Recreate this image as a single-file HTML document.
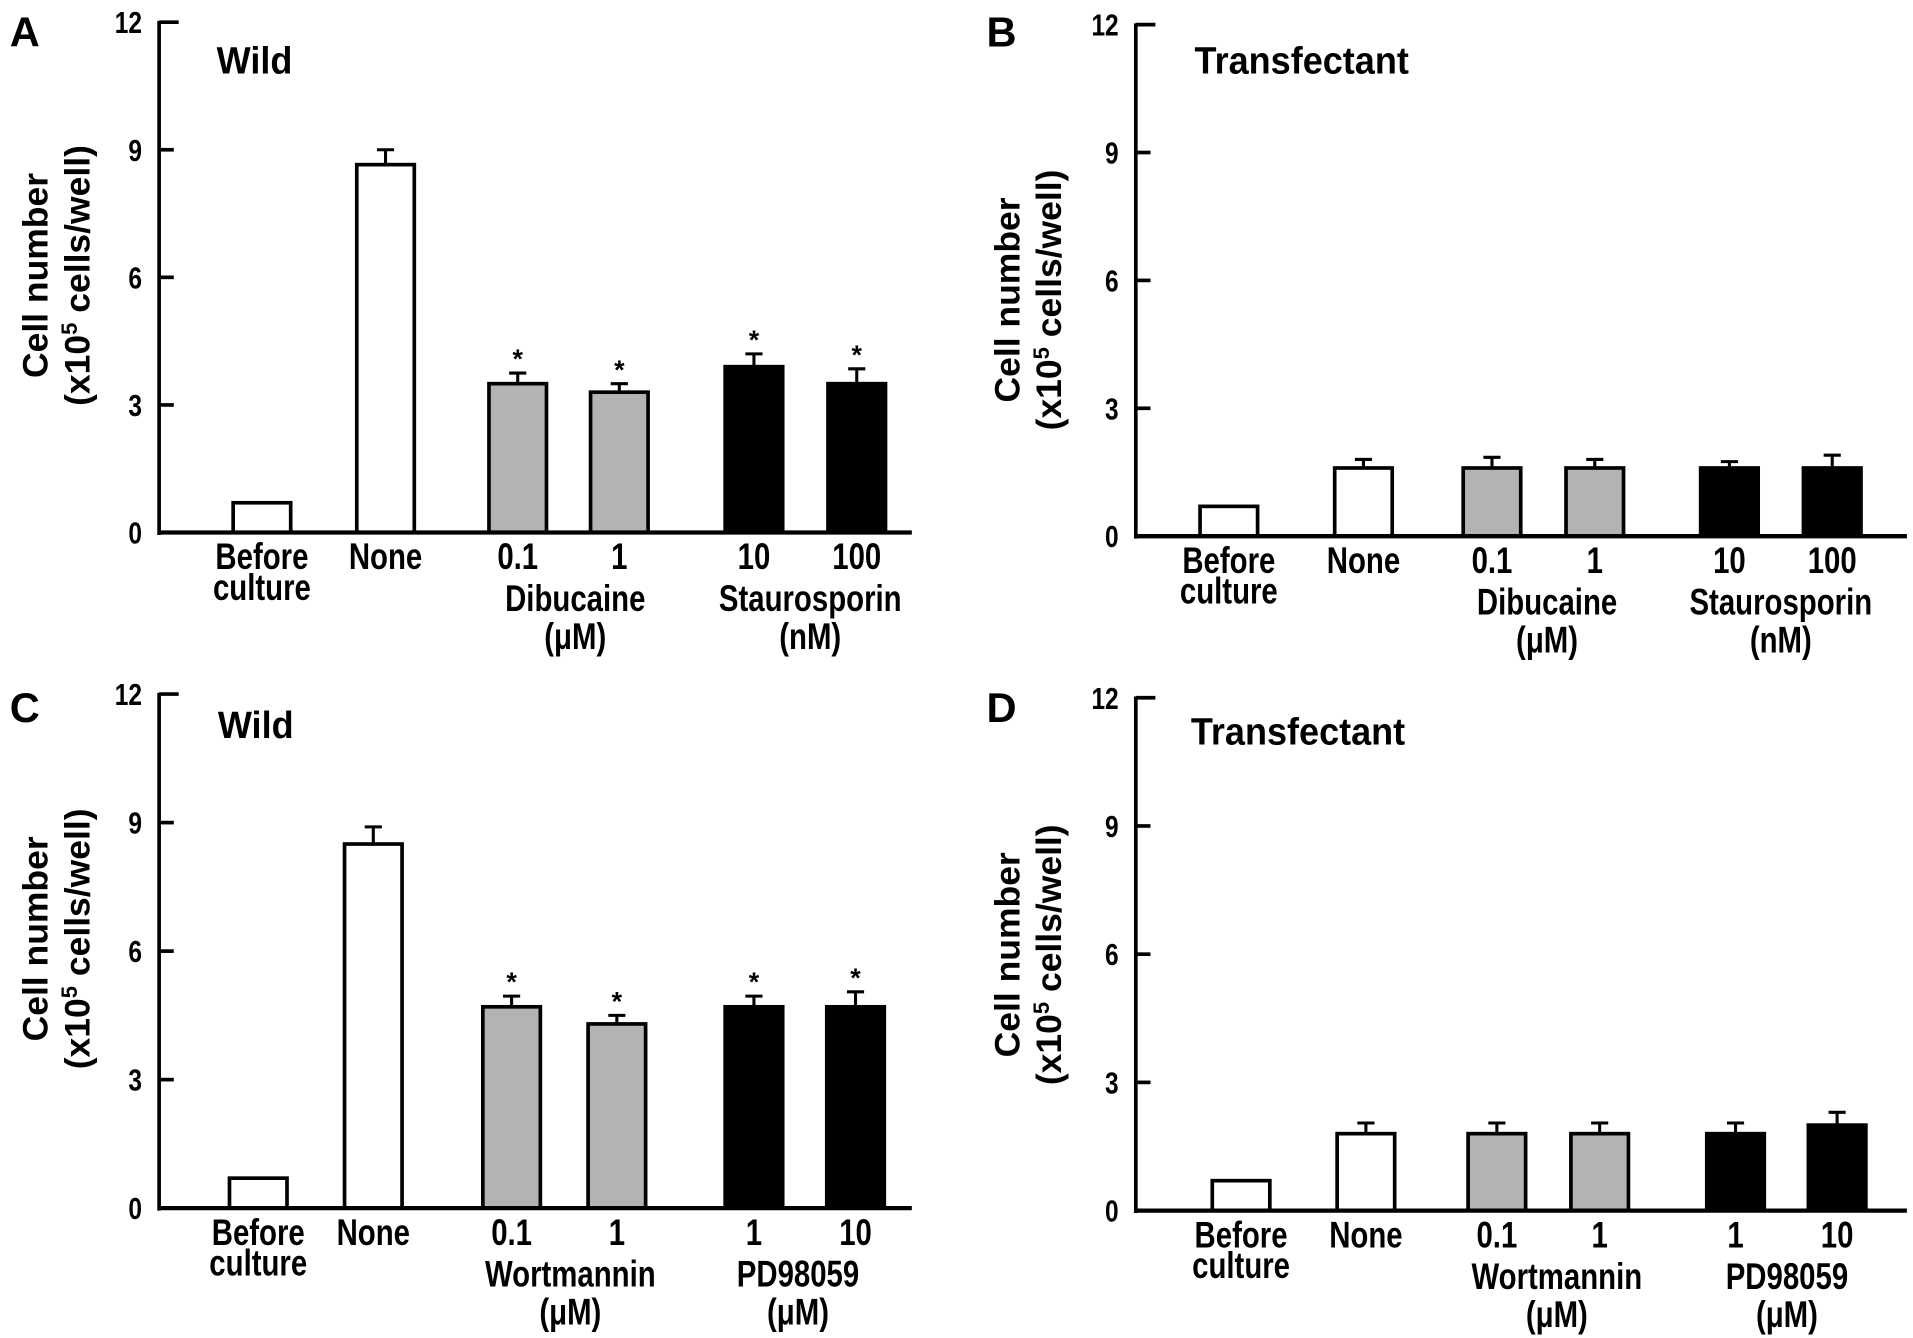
<!DOCTYPE html>
<html><head><meta charset="utf-8"><style>
html,body{margin:0;padding:0;background:#fff;}
svg{display:block;}
text{font-family:"Liberation Sans Narrow","Liberation Sans",sans-serif;font-weight:bold;fill:#000;}
.yt{font-family:"Liberation Sans",sans-serif;}
</style></head><body>
<svg id="fig" width="1913" height="1338" viewBox="0 0 1563 1093" xmlns="http://www.w3.org/2000/svg"></svg>
<script>
// Panel A data
const catsA = ["Before culture","None","0.1","1","10","100"];
const valsA = [0.7, 8.65, 3.5, 3.3, 3.9, 3.5];
const errsA = [0, 0.35, 0.25, 0.2, 0.3, 0.35];
const starsA = [false,false,true,true,true,true];
// Panel B data
const catsB = ["Before culture","None","0.1","1","10","100"];
const valsB = [0.7, 1.6, 1.6, 1.6, 1.6, 1.6];
const errsB = [0, 0.2, 0.25, 0.2, 0.15, 0.3];
const starsB = [false,false,false,false,false,false];
// Panel C data
const catsC = ["Before culture","None","0.1","1","1","10"];
const valsC = [0.7, 8.5, 4.7, 4.3, 4.7, 4.7];
const errsC = [0, 0.4, 0.25, 0.2, 0.25, 0.35];
const starsC = [false,false,true,true,true,true];
// Panel D data
const catsD = ["Before culture","None","0.1","1","1","10"];
const valsD = [0.7, 1.8, 1.8, 1.8, 1.8, 2.0];
const errsD = [0, 0.25, 0.25, 0.25, 0.25, 0.3];
const starsD = [false,false,false,false,false,false];
const yTicks = [0,3,6,9,12];
const fills = ["#fff","#fff","#b3b3b3","#b3b3b3","#000","#000"];

const svg = document.getElementById('fig');
const NS = "http://www.w3.org/2000/svg";
function mk(tag, attrs, parent){const e=document.createElementNS(NS,tag);for(const k in attrs)e.setAttribute(k,attrs[k]);(parent||svg).appendChild(e);return e;}
function txt(parent,x,y,s,size,anchor,cls,sx){
  const t=mk('text',{x:0,y:0,'font-size':size,'text-anchor':anchor||'middle',transform:`translate(${x},${y}) scale(${sx||0.8},1)`},parent);
  if(cls)t.setAttribute('class',cls);t.textContent=s;return t;}

const panels = [
 {id:'a',letter:'A',title:'Wild',ax:130,y0:435,y12:18,xend:745,tx:177,ty:60,lx:8,ly:38,
  centers:[214,315,423,506,616,700],cats:catsA,vals:valsA,errs:errsA,stars:starsA,
  g1:['Dibucaine','(μM)',470],g2:['Staurosporin','(nM)',662],ytx:[28,62,225]},
 {id:'b',letter:'B',title:'Transfectant',ax:928,y0:438,y12:20,xend:1558,tx:976,ty:60,lx:806,ly:38,
  centers:[1004,1114,1219,1303,1413,1497],cats:catsB,vals:valsB,errs:errsB,stars:starsB,
  g1:['Dibucaine','(μM)',1264],g2:['Staurosporin','(nM)',1455],ytx:[822,856,245]},
 {id:'c',letter:'C',title:'Wild',ax:130,y0:987,y12:567,xend:745,tx:178,ty:603,lx:8,ly:590,
  centers:[211,305,418,504,616,699],cats:catsC,vals:valsC,errs:errsC,stars:starsC,
  g1:['Wortmannin','(μM)',466],g2:['PD98059','(μM)',652],ytx:[28,62,767]},
 {id:'d',letter:'D',title:'Transfectant',ax:928,y0:989,y12:570,xend:1558,tx:973,ty:608,lx:806,ly:590,
  centers:[1014,1116,1223,1307,1418,1501],cats:catsD,vals:valsD,errs:errsD,stars:starsD,
  g1:['Wortmannin','(μM)',1272],g2:['PD98059','(μM)',1460],ytx:[822,856,780]}
];

panels.forEach(p=>{
  const g = mk('g',{});
  
  
  const y = v => p.y0 - (p.y0-p.y12)*v/12;
  const bw = 50;
  const L = txt(g,p.lx,p.ly,p.letter,34,'start','yt',1);
  
  
  const T = txt(g,p.tx,p.ty,p.title,31,'start','yt',0.95);
  
  
  const yt = mk('text',{transform:`translate(${p.ytx[0]+11},${p.ytx[2]}) rotate(-90)`,'text-anchor':'middle','font-size':29,class:'yt'},g);
  
  
  yt.textContent='Cell number';
  const yt2 = mk('text',{transform:`translate(${p.ytx[1]+11},${p.ytx[2]}) rotate(-90)`,'text-anchor':'middle','font-size':29,class:'yt'},g);
  
  
  yt2.innerHTML='(x10<tspan dy="-10" font-size="18">5</tspan><tspan dy="10"> cells/well)</tspan>';
  const ya = mk('line',{x1:p.ax,y1:p.y12-1,x2:p.ax,y2:p.y0+2,stroke:'#000','stroke-width':3},g);
  
  
  yTicks.forEach(v=>{
    const tk = mk('line',{x1:p.ax,y1:y(v),x2:p.ax+(v==12?16:12),y2:y(v),stroke:'#000','stroke-width':3},g);
    
    
    const tl = txt(g,p.ax-14,y(v)+9,String(v),25,'end',null,0.8);
    
    
  });
  p.vals.forEach((v,i)=>{
    const c = p.centers[i];
    const top = y(v);
    if(p.errs[i]>0){
      const et = y(v+p.errs[i]);
      const e1 = mk('line',{x1:c,y1:top,x2:c,y2:et,stroke:'#000','stroke-width':2.5},g);
      
      
      const e2 = mk('line',{x1:c-7,y1:et,x2:c+7,y2:et,stroke:'#000','stroke-width':2.5},g);
      
      
      if(p.stars[i]){
        const s = txt(g,c,et-4,'*',22,'middle','yt',1);
        
        
      }
    }
    const r = mk('rect',{x:c-bw/2+1.5,y:top,width:bw-3,height:p.y0-top,fill:fills[i],stroke:'#000','stroke-width':3},g);
    
    
    const lab = p.cats[i];
    if(lab==='Before culture'){
      const a=txt(g,c,p.y0+30,'Before',30);
      
      
      const b=txt(g,c,p.y0+55,'culture',30);
      
      
    } else {
      const a=txt(g,c,p.y0+30,lab,30);
      
      
    }
  });
  const xa = mk('line',{x1:p.ax-1,y1:p.y0,x2:p.xend,y2:p.y0,stroke:'#000','stroke-width':3.5},g);
  
  
  [p.g1,p.g2].forEach((gg,k)=>{
    const a=txt(g,gg[2],p.y0+64,gg[0],30);
    
    
    const b=txt(g,gg[2],p.y0+95,gg[1],30);
    
    
  });
});
</script>
</body></html>
